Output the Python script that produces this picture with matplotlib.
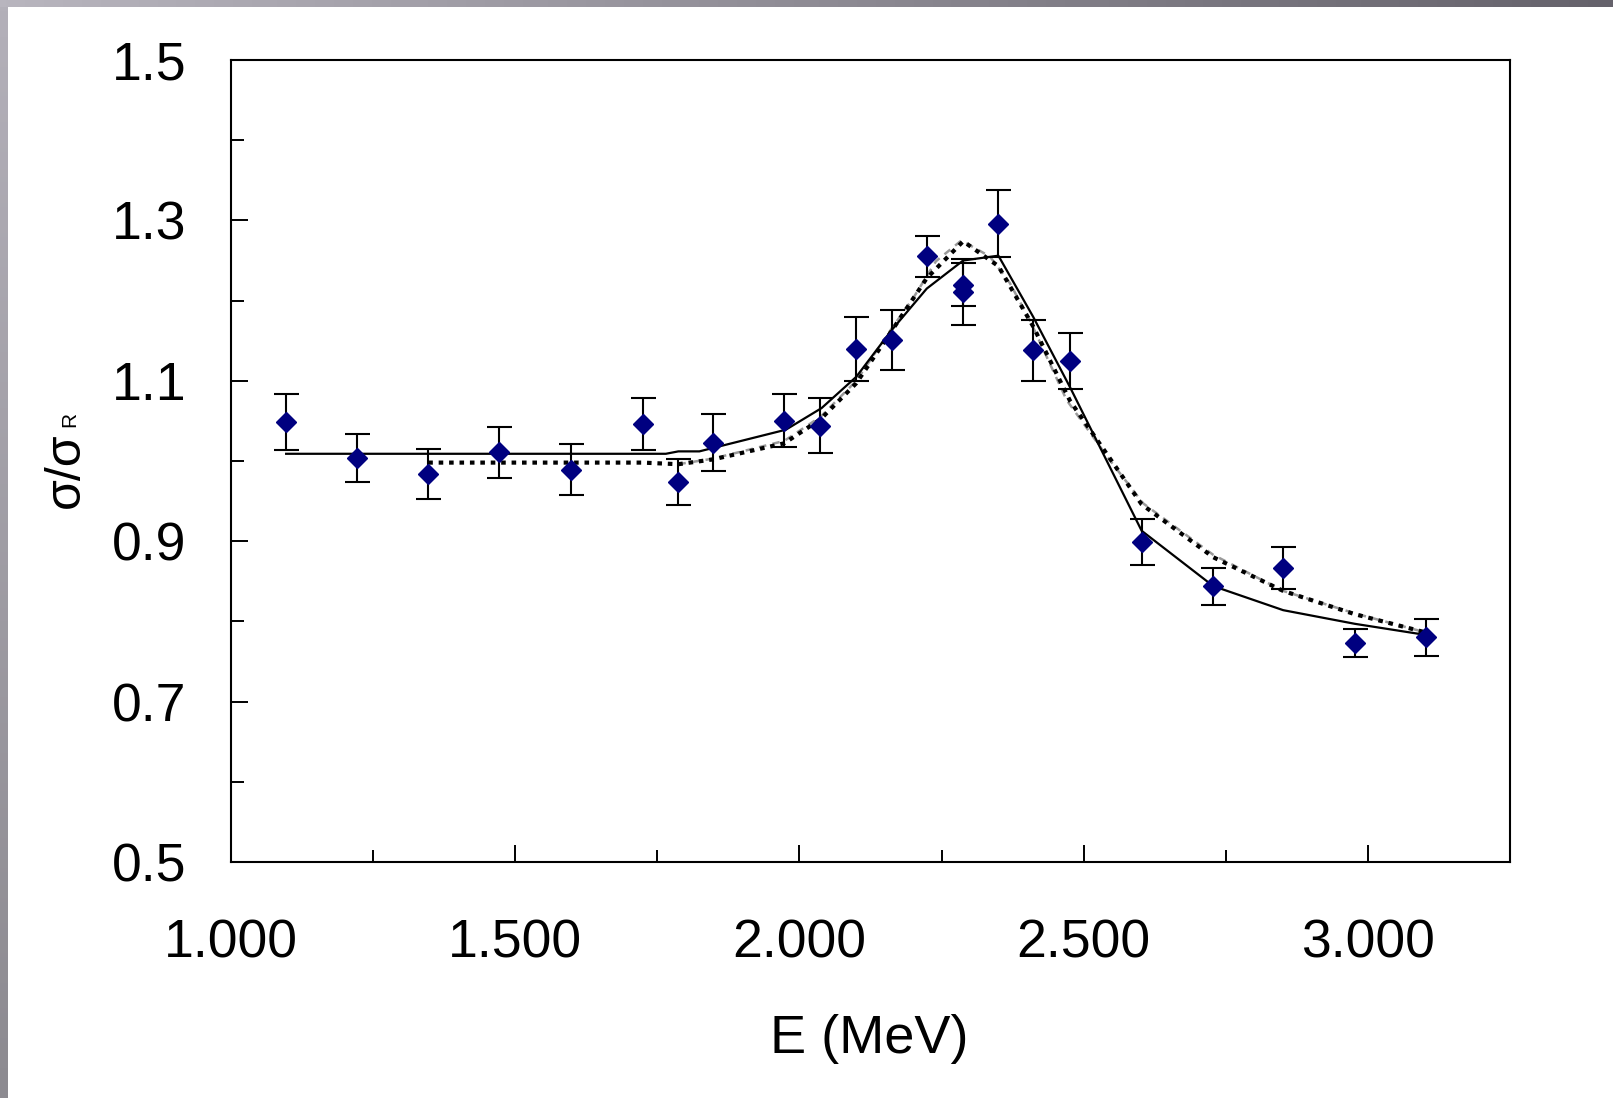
import numpy as np
import matplotlib
matplotlib.use("Agg")
import matplotlib.pyplot as plt
from matplotlib.colors import LinearSegmentedColormap
from matplotlib.ticker import FixedLocator, MultipleLocator, FormatStrFormatter

plt.rcParams["font.family"] = ["Liberation Sans", "DejaVu Sans"]

# measured points: energy (MeV), sigma/sigma_R, error
energy = [1.097, 1.222, 1.347, 1.472, 1.599, 1.724, 1.787, 1.848, 1.973, 2.037,
          2.100, 2.162, 2.224, 2.288, 2.288, 2.350, 2.411, 2.476, 2.602, 2.728,
          2.851, 2.977, 3.103]
ratio = [1.049, 1.004, 0.984, 1.011, 0.989, 1.046, 0.974, 1.023, 1.050, 1.044,
         1.140, 1.151, 1.255, 1.220, 1.211, 1.296, 1.138, 1.125, 0.899, 0.844,
         0.867, 0.773, 0.780]
err = [0.035, 0.030, 0.031, 0.032, 0.032, 0.032, 0.029, 0.035, 0.033, 0.034,
       0.040, 0.037, 0.026, 0.027, 0.041, 0.042, 0.038, 0.035, 0.029, 0.023,
       0.026, 0.018, 0.023]

# model curves
solid_x = [1.097, 1.765, 1.787, 1.824, 1.976, 2.039, 2.100, 2.162, 2.224, 2.288,
           2.350, 2.411, 2.476, 2.602, 2.728, 2.851, 2.977, 3.103]
solid_y = [1.009, 1.009, 1.012, 1.012, 1.039, 1.066, 1.105, 1.163, 1.215, 1.250,
           1.256, 1.180, 1.092, 0.913, 0.844, 0.814, 0.797, 0.783]

dot_x = [1.347, 1.472, 1.599, 1.724, 1.787, 1.848, 1.973, 2.037, 2.100, 2.162,
         2.224, 2.288, 2.350, 2.411, 2.476, 2.602, 2.728, 2.851, 2.977, 3.103]
dot_y = [0.998, 0.998, 0.998, 0.998, 0.996, 1.002, 1.022, 1.052, 1.097, 1.162,
         1.228, 1.274, 1.243, 1.168, 1.075, 0.946, 0.880, 0.838, 0.809, 0.786]

dash_x = [1.787, 1.848, 1.973, 2.037, 2.100, 2.162, 2.200, 2.240, 2.285, 2.335,
          2.370, 2.405, 2.470, 2.546, 2.605, 2.676, 2.728, 2.851, 2.977, 3.103]
dash_y = [0.996, 1.003, 1.025, 1.055, 1.100, 1.165, 1.203, 1.249, 1.275, 1.255,
          1.222, 1.176, 1.076, 1.001, 0.947, 0.910, 0.883, 0.838, 0.810, 0.786]

y_major = [0.5, 0.7, 0.9, 1.1, 1.3, 1.5]
y_minor = [0.6, 0.8, 1.0, 1.2, 1.4]

W, H = 1613, 1098
fig = plt.figure(figsize=(W / 100, H / 100), dpi=100)
fig.patch.set_facecolor("white")

# grey frame bands (top and left)
top = fig.add_axes([0, 1 - 7 / H, 1, 7 / H])
top.imshow(np.linspace(0, 1, 256)[None, :], aspect="auto",
           cmap=LinearSegmentedColormap.from_list("t", ["#b8b5be", "#65626b"]))
top.set_axis_off()
left = fig.add_axes([0, 0, 8 / W, 1 - 7 / H])
left.imshow(np.linspace(0, 1, 256)[:, None], aspect="auto",
            cmap=LinearSegmentedColormap.from_list("l", ["#b3b0b9", "#8c8a90"]))
left.set_axis_off()

ax = fig.add_axes([231 / W, 1 - 862 / H, (1510 - 231) / W, (862 - 60) / H])

ax.plot(dash_x, dash_y, color="#9a9a9a", lw=1.8, ls=(0, (3, 2.5)), zorder=2)
ax.plot(dot_x, dot_y, color="black", lw=3.0, ls=(0, (1.1, 1.4)), zorder=2)
ax.plot(solid_x, solid_y, color="black", lw=1.6, zorder=2)
ax.errorbar(energy, ratio, yerr=err, fmt="D", color="#000080", ms=10,
            ecolor="black", elinewidth=1.5, capsize=9, capthick=1.5, zorder=3)

ax.set_xlim(1.0, 3.25)
ax.set_ylim(0.5, 1.5)
ax.xaxis.set_major_locator(MultipleLocator(0.5))
ax.xaxis.set_minor_locator(MultipleLocator(0.25))
ax.yaxis.set_major_locator(FixedLocator(y_major))
ax.yaxis.set_minor_locator(FixedLocator(y_minor))
ax.xaxis.set_major_formatter(FormatStrFormatter("%.3f"))
ax.yaxis.set_major_formatter(FormatStrFormatter("%.1f"))
ax.tick_params(which="both", direction="in", width=1.4, top=False, right=False,
               labelsize=38.5)
ax.tick_params(which="major", length=12)
ax.tick_params(which="minor", length=9)
ax.tick_params(axis="y", pad=32)
ax.tick_params(axis="x", pad=41)
for s in ax.spines.values():
    s.set_linewidth(1.5)

fig.text(869 / W, 1 - 1039 / H, "E (MeV)", ha="center", va="center", fontsize=39)
fig.text(66 / W, 1 - 470 / H, "σ/σ", ha="center", va="center", rotation=90,
         fontsize=36)
fig.text(70 / W, 1 - 419 / H, "R", ha="center", va="center", rotation=90,
         fontsize=15)

fig.savefig("out.png", dpi=100)
